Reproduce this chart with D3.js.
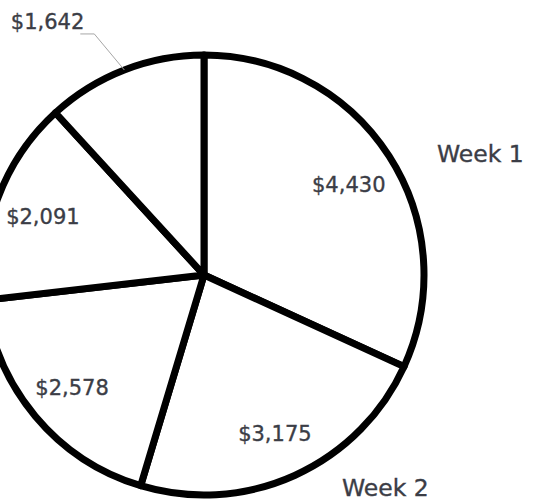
<!DOCTYPE html>
<html>
<head>
<meta charset="utf-8">
<script src="https://cdn.jsdelivr.net/npm/d3@7"></script>
<style>
  body { margin: 0; background: #fff; }
  text { font-family: "DejaVu Sans", sans-serif; fill: #3b3d46; stroke: #3b3d46; stroke-width: 0.35px; }
</style>
</head>
<body>
<svg id="chart"></svg>
<script>
// values, clockwise from 12 o'clock
var amounts = [4430, 3175, 2578, 2091, 1642];
var labels = ["$4,430", "$3,175", "$2,578", "$2,091", "$1,642"];
var weekNames = ["Week 1", "Week 2"];

var width = 533, height = 501;
var cx = 204, cy = 275, r = 220;

var svg = d3.select("#chart")
    .attr("width", width)
    .attr("height", height);

var g = svg.append("g")
    .attr("transform", "translate(" + cx + "," + cy + ")");

var pie = d3.pie().sort(null).value(function(d){ return d; });
var arcs = pie(amounts);

var arc = d3.arc().innerRadius(0).outerRadius(r);

g.selectAll("path.slice")
    .data(arcs)
    .enter().append("path")
    .attr("class", "slice")
    .attr("d", arc)
    .attr("fill", "#fff")
    .attr("stroke", "#000")
    .attr("stroke-width", 7)
    .attr("stroke-linejoin", "round");

// labels inside slices (all but the last one)
var labelArc = d3.arc().innerRadius(172).outerRadius(172);
g.selectAll("text.val")
    .data(arcs.slice(0, 4))
    .enter().append("text")
    .attr("class", "val")
    .attr("transform", function(d){ return "translate(" + labelArc.centroid(d) + ")"; })
    .attr("text-anchor", "middle")
    .attr("dy", "0.45em")
    .attr("font-size", "21px")
    .text(function(d, i){ return labels[i]; });

// last slice label sits outside with a leader line
var last = arcs[4];
var mid = (last.startAngle + last.endAngle) / 2;
var edge = [Math.sin(mid) * r, -Math.cos(mid) * r];
var elbow = [edge[0] - 30, edge[1] - 36];
g.append("polyline")
    .attr("points", [edge, elbow, [elbow[0] - 14, elbow[1]]].map(function(p){ return p.join(","); }).join(" "))
    .attr("fill", "none")
    .attr("stroke", "#a6a6a6")
    .attr("stroke-width", 1);
g.append("text")
    .attr("x", elbow[0] - 10)
    .attr("y", elbow[1] - 5)
    .attr("text-anchor", "end")
    .attr("font-size", "21px")
    .text(labels[4]);

// week names
svg.append("text")
    .attr("x", 437).attr("y", 162)
    .attr("font-size", "23.5px")
    .text(weekNames[0]);
svg.append("text")
    .attr("x", 342).attr("y", 496)
    .attr("font-size", "23.5px")
    .text(weekNames[1]);
</script>
</body>
</html>
